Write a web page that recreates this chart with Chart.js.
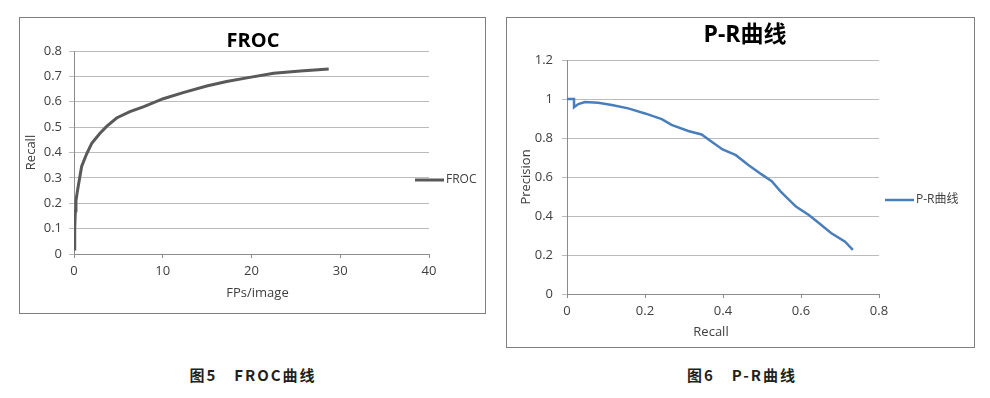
<!DOCTYPE html>
<html><head><meta charset="utf-8">
<script src="https://cdn.jsdelivr.net/npm/chart.js@4.4.1/dist/chart.umd.min.js"></script>
<style>
body{margin:0;background:#fff;width:990px;height:398px;position:relative;overflow:hidden;font-family:"Open Sans","Noto Sans CJK SC",sans-serif}
.box{position:absolute;border:1px solid #7f7f7f;box-sizing:border-box;background:#fff}
.box canvas{position:absolute;left:0;top:0}
.title{position:absolute;font-weight:bold;color:#000;white-space:nowrap;transform:translateX(-50%)}
.cap{position:absolute;font-family:"Noto Sans CJK SC",sans-serif;font-weight:bold;font-size:15px;line-height:15px;letter-spacing:2px;color:#231f20;white-space:pre;transform:translateX(-50%)}
</style></head>
<body>
<div class="box" style="left:19px;top:17px;width:467px;height:297px"><canvas id="c1" width="465" height="295"></canvas></div>
<div class="box" style="left:506px;top:17px;width:469px;height:331px"><canvas id="c2" width="467" height="329"></canvas></div>
<div class="title" style="left:253px;top:30px;font-size:20px;line-height:20px">FROC</div>
<div class="title" style="left:745px;top:22px;font-size:23px;line-height:23px">P-R曲线</div>
<div class="cap" style="left:253px;top:367px">图5　FROC曲线</div>
<div class="cap" style="left:742px;top:367px">图6　P-R曲线</div>
<script>
// ---- data ----
const frocFP = [0.02, 0.08, 0.15, 0.22, 0.35, 0.49, 0.86, 1.43, 2.0, 2.93, 3.68, 4.8, 6.3, 7.8, 10.06, 12.3, 14.95, 17.2, 19.8, 22.5, 25.5, 28.7];
const frocRecall = [0.02, 0.1, 0.17, 0.21, 0.24, 0.27, 0.345, 0.395, 0.436, 0.476, 0.503, 0.536, 0.561, 0.58, 0.612, 0.636, 0.662, 0.68, 0.696, 0.712, 0.721, 0.729];
const prRecall = [0, 0.018, 0.018, 0.029, 0.046, 0.08, 0.115, 0.157, 0.2, 0.243, 0.268, 0.311, 0.345, 0.371, 0.399, 0.433, 0.465, 0.5, 0.525, 0.548, 0.587, 0.62, 0.645, 0.677, 0.713, 0.733];
const prPrecision = [1, 1, 0.958, 0.974, 0.984, 0.981, 0.969, 0.952, 0.926, 0.897, 0.867, 0.836, 0.818, 0.781, 0.741, 0.712, 0.662, 0.612, 0.579, 0.525, 0.448, 0.405, 0.365, 0.313, 0.268, 0.226];
const frocLabel = 'FROC';
const prLabel = 'P-R曲线';
const frocXTicks = {min: 0, max: 40, step: 10};
const frocYTicks = {min: 0, max: 0.8, step: 0.1};
const prXTicks = {min: 0, max: 0.8, step: 0.2};
const prYTicks = {min: 0, max: 1.2, step: 0.2};

const FONT = '"Open Sans","Noto Sans CJK SC",sans-serif';
const TXT = '#404040';
const GRID = '#bcbcbc';
const AXIS = '#8c8c8c';

const fmt = v => String(Math.round(v * 1000) / 1000);

const sideLegend = {
  id: 'sideLegend',
  afterDraw(chart, args, o) {
    const ds = chart.data.datasets[0];
    const ctx = chart.ctx;
    ctx.save();
    ctx.strokeStyle = ds.borderColor;
    ctx.lineWidth = ds.borderWidth;
    ctx.beginPath();
    ctx.moveTo(o.x, o.y); ctx.lineTo(o.x + 29, o.y); ctx.stroke();
    ctx.fillStyle = TXT;
    ctx.font = '12px ' + FONT;
    ctx.textAlign = 'left'; ctx.textBaseline = 'middle';
    ctx.fillText(ds.label, o.x + 31, o.y);
    ctx.restore();
  }
};
const xTitle = {
  id: 'xTitle',
  afterDraw(chart, args, o) {
    const ctx = chart.ctx, a = chart.chartArea;
    ctx.save();
    ctx.fillStyle = TXT;
    ctx.font = '13px ' + FONT;
    ctx.textAlign = 'center'; ctx.textBaseline = 'middle';
    ctx.fillText(o.text, (a.left + a.right) / 2 + o.dx, a.bottom + o.dy);
    ctx.restore();
  }
};

function build(id, xs, ys, label, color, width, xt, yt, cfg) {
  return new Chart(document.getElementById(id), {
    type: 'line',
    data: {datasets: [{label, data: xs.map((x, i) => ({x, y: ys[i]})), borderColor: color, borderWidth: width, pointRadius: 0, tension: 0, fill: false}]},
    options: {
      responsive: false, animation: false, devicePixelRatio: 1,
      layout: {padding: {left: 0, top: cfg.top, right: cfg.right, bottom: 0}},
      plugins: {legend: {display: false}, tooltip: {enabled: false}, title: {display: false},
        sideLegend: cfg.legend, xTitle: cfg.xTitle},
      scales: {
        x: {type: 'linear', min: xt.min, max: xt.max,
          ticks: {stepSize: xt.step, color: TXT, font: {family: FONT, size: 13}, padding: 5, maxRotation: 0, callback: fmt},
          grid: {drawOnChartArea: false, drawTicks: true, tickLength: 4, color: AXIS},
          border: {display: true, color: AXIS},
          afterFit(s) { s.height = cfg.xh; }},
        y: {type: 'linear', min: yt.min, max: yt.max,
          ticks: {stepSize: yt.step, color: TXT, font: {family: FONT, size: 13}, padding: cfg.ypad, callback: fmt},
          grid: {color: GRID, tickLength: 5},
          border: {display: true, color: AXIS},
          title: {display: true, text: cfg.yTitle, color: TXT, font: {family: FONT, size: 13}, padding: {top: cfg.ytp, bottom: 0}},
          afterFit(s) { s.width = cfg.yw; }}
      }
    },
    plugins: [sideLegend, xTitle]
  });
}

build('c1', frocFP, frocRecall, frocLabel, '#595959', 3, frocXTicks, frocYTicks,
  {top: 33, right: 56, xh: 59, yw: 54, ypad: 7, ytp: 3, yTitle: 'Recall',
   legend: {x: 395, y: 162}, xTitle: {text: 'FPs/image', dx: 6, dy: 39}});
build('c2', prRecall, prPrecision, prLabel, '#4a7ebb', 2.5, prXTicks, prYTicks,
  {top: 42, right: 95, xh: 53, yw: 60, ypad: 9, ytp: 11, yTitle: 'Precision',
   legend: {x: 378, y: 182}, xTitle: {text: 'Recall', dx: -12, dy: 38}});
</script>
</body></html>
